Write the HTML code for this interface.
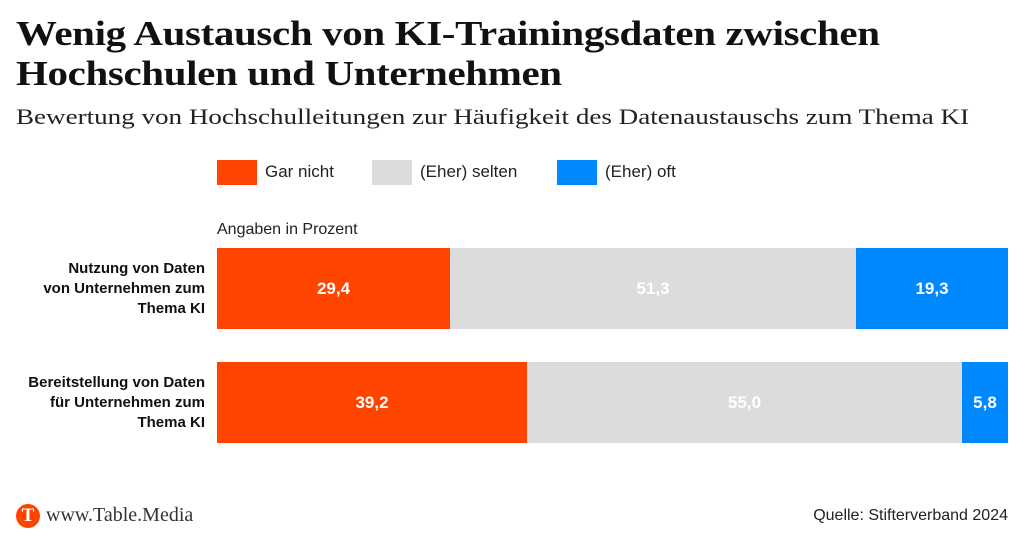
<!DOCTYPE html>
<html><head><meta charset="utf-8"><style>
body{margin:0;width:1024px;height:543px;background:#fff;position:relative;overflow:hidden;font-family:"Liberation Sans",sans-serif;color:#111}
.a{position:absolute;white-space:nowrap}
.t{font-family:"Liberation Serif",serif;font-weight:bold;font-size:35px;line-height:40px;left:16px;top:14px;letter-spacing:-0.3px;transform:scaleX(1.17);transform-origin:0 0}
.s{font-family:"Liberation Serif",serif;font-size:22px;left:16px;top:104px;color:#222;transform:scaleX(1.23);transform-origin:0 0}
.sq{position:absolute;width:40px;height:25px;top:160px}
.lg{font-size:17px;top:162px;color:#222}
.seg{position:absolute;height:81px;color:#fff;font-weight:bold;font-size:17px;display:flex;align-items:center;justify-content:center}
.lab{position:absolute;right:819px;text-align:right;font-weight:bold;font-size:15px;line-height:20px}
</style></head><body>
<div class="a t">Wenig Austausch von KI-Trainingsdaten zwischen<br>Hochschulen und Unternehmen</div>
<div class="a s">Bewertung von Hochschulleitungen zur Häufigkeit des Datenaustauschs zum Thema KI</div>
<div class="sq" style="left:217px;background:#ff4400"></div><div class="a lg" style="left:265px">Gar nicht</div>
<div class="sq" style="left:372px;background:#dcdcdc"></div><div class="a lg" style="left:420px">(Eher) selten</div>
<div class="sq" style="left:557px;background:#0088ff"></div><div class="a lg" style="left:605px">(Eher) oft</div>
<div class="a" style="left:217px;top:221px;font-size:16px;color:#222">Angaben in Prozent</div>
<div class="lab" style="top:259px">Nutzung von Daten<br>von Unternehmen zum<br>Thema KI</div>
<div class="lab" style="top:373px">Bereitstellung von Daten<br>für Unternehmen zum<br>Thema KI</div>
<div class="seg" style="left:217px;width:233px;top:248px;background:#ff4400">29,4</div>
<div class="seg" style="left:450px;width:406px;top:248px;background:#dcdcdc">51,3</div>
<div class="seg" style="left:856px;width:152px;top:248px;background:#0088ff">19,3</div>
<div class="seg" style="left:217px;width:310px;top:362px;background:#ff4400">39,2</div>
<div class="seg" style="left:527px;width:435px;top:362px;background:#dcdcdc">55,0</div>
<div class="seg" style="left:962px;width:46px;top:362px;background:#0088ff">5,8</div>
<div class="a" style="left:16px;top:504px;width:24px;height:24px;border-radius:50%;background:#ff4400;color:#fff;font-family:'Liberation Serif',serif;font-weight:bold;font-size:19px;line-height:24px;text-align:center">T</div>
<div class="a" style="left:46px;top:504px;font-family:'Liberation Serif',serif;font-size:20px;color:#333">www.Table.Media</div>
<div class="a" style="right:16px;top:507px;font-size:16px;color:#222">Quelle: Stifterverband 2024</div>
</body></html>
